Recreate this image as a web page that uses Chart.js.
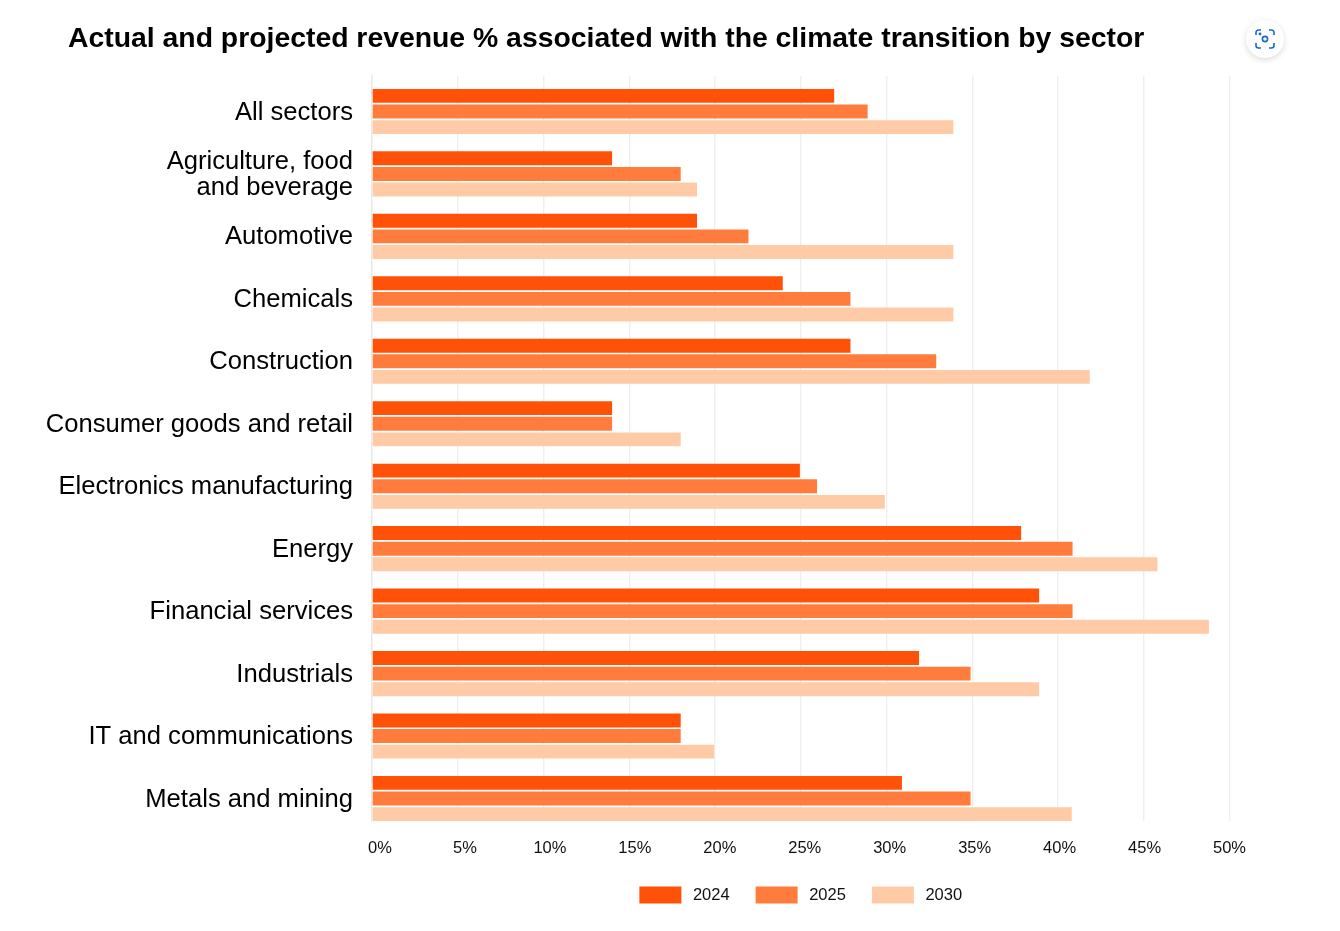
<!DOCTYPE html>
<html><head><meta charset="utf-8">
<script src="https://cdn.jsdelivr.net/npm/chart.js@4"></script>
<style>
html,body{margin:0;padding:0;background:#fff;width:1340px;height:931px;overflow:hidden}
#wrap{position:absolute;left:0;top:0;width:1340px;height:931px}
h1{position:absolute;left:68px;top:19px;margin:0;font:700 28.36px/36px "Liberation Sans",Arial,sans-serif;color:#000;white-space:nowrap}
#cam{position:absolute;left:1246px;top:20px;width:38px;height:38px;border-radius:50%;background:#fff;box-shadow:0 2px 6px rgba(0,0,0,.14)}
#cam svg{position:absolute;left:9px;top:9px}
</style></head><body>
<div id="wrap"><canvas id="c" width="1340" height="931"></canvas></div>
<h1>Actual and projected revenue % associated with the climate transition by sector</h1>
<div id="cam"><svg width="20" height="20" viewBox="0 0 20 20" fill="none" stroke="#1769c4" stroke-width="1.6"><path d="M1 6V3.5A2.5 2.5 0 0 1 3.5 1H6M14 1h2.5A2.5 2.5 0 0 1 19 3.5V6M19 14v2.5a2.5 2.5 0 0 1-2.5 2.5H14M6 19H3.5A2.5 2.5 0 0 1 1 16.500V14"/><circle cx="10" cy="10" r="2.6"/><circle cx="5" cy="5" r=".6"/></svg></div>
<script>
const categories=["All sectors",["Agriculture, food","and beverage"],"Automotive","Chemicals","Construction","Consumer goods and retail","Electronics manufacturing","Energy","Financial services","Industrials","IT and communications","Metals and mining"];
const s2024=[26.95,14,18.95,23.95,27.9,14,24.95,37.85,38.9,31.9,18,30.9];
const s2025=[28.9,18,21.95,27.9,32.9,14,25.95,40.85,40.85,34.9,18,34.9];
const s2030=[33.9,18.95,33.9,33.9,41.85,18,29.9,45.8,48.8,38.9,19.95,40.8];
const xTicks=[0,5,10,15,20,25,30,35,40,45,50];
const toPoints=a=>a.map((v,i)=>({x:v,y:i}));
const ds=(label,data,color)=>({label,data:toPoints(data),backgroundColor:color,borderColor:color,borderWidth:0,categoryPercentage:.75,barPercentage:.89});
new Chart(document.getElementById('c'),{
 type:'bar',
 data:{labels:categories,datasets:[ds('2024',s2024,'#ff5208'),ds('2025',s2025,'#ff7c3d'),ds('2030',s2030,'#ffcba6')]},
 options:{
  indexAxis:'y',responsive:false,animation:false,
  layout:{padding:{left:0,right:110.5,top:76,bottom:17.5}},
  scales:{
   x:{type:'linear',min:0,max:50,afterBuildTicks:s=>{s.ticks=xTicks.map(v=>({value:v}))},
      afterFit:s=>{s.height=0},
      border:{display:false},
      grid:{color:'#efefef',lineWidth:1.4,drawTicks:false},
      ticks:{display:false}},
   xLabels:{type:'linear',position:'bottom',min:-0.47,max:50,afterBuildTicks:s=>{s.ticks=xTicks.map(v=>({value:v}))},
      afterFit:s=>{s.height=39.5},
      border:{display:false},
      grid:{display:false,drawTicks:false},
      ticks:{padding:18,maxRotation:0,autoSkip:false,color:'#111',font:{family:'"Liberation Sans"',size:16.5},callback:v=>v+'%'}},
   y:{type:'linear',reverse:true,offset:false,min:-0.568,max:11.36,
      afterFit:s=>{s.width=372},
      afterBuildTicks:s=>{s.ticks=categories.map((c,i)=>({value:i}))},
      border:{display:true,color:'#e9e9e9',width:1.4},
      grid:{display:false,drawTicks:false},
      ticks:{padding:19,labelOffset:1,autoSkip:false,color:'#000',font:{family:'"Liberation Sans"',size:25.6,lineHeight:1},callback:v=>categories[v]}}
  },
  plugins:{
   title:{display:false},tooltip:{enabled:false},
   legend:{position:'bottom',fullSize:false,labels:{boxWidth:42,boxHeight:17,padding:26,color:'#111',font:{family:'"Liberation Sans"',size:16.5},
     generateLabels:ch=>Chart.defaults.plugins.legend.labels.generateLabels(ch).map(l=>({...l,text:'\u2009'+l.text}))}}
  }
 }
});
</script></body></html>
